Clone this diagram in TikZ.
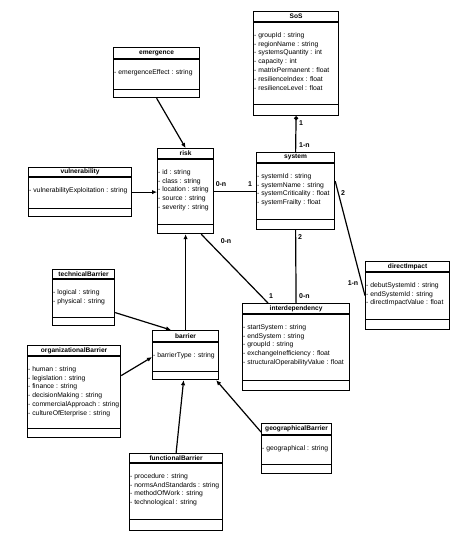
\documentclass[tikz,border=0pt]{standalone}
\usepackage{fontspec}
\setmainfont{Liberation Sans}
\usetikzlibrary{arrows.meta}
\tikzset{
  classbox/.style={draw,line width=1.2pt,inner sep=0pt,fill=white},
  classname/.style={font=\fontsize{6.6}{8}\selectfont\bfseries,inner sep=0pt},
  attrlist/.style={font=\fontsize{6.8}{8.9}\selectfont,align=left,inner sep=0pt},
  assoc/.style={line width=1.2pt},
  gen/.style={line width=1.2pt,-{Latex[length=5pt,width=4.5pt]}},
  mult/.style={font=\fontsize{7}{8}\selectfont\bfseries,inner sep=0pt}
}
% name, left, top, right, bottom, title height, bottom band height, title, attributes
\newcommand{\umlclass}[9]{%
  \node[classbox,anchor=north west,minimum width={#4-#2},minimum height={#5-#3}] (#1) at (#2,#3) {};
  \draw[line width=1.2pt] ([yshift=-#6]#1.north west) -- ([yshift=-#6]#1.north east);
  \draw[line width=1.2pt] ([yshift=#7]#1.south west) -- ([yshift=#7]#1.south east);
  \node[classname] at ([yshift=-#6/2]#1.north) {#8};
  \node[attrlist,anchor=north west] at ([xshift=1,yshift=-#6-10]#1.north west) {#9};
}
\begin{document}
\begin{tikzpicture}[x=1pt,y=-1pt]
  \useasboundingbox (0,0) rectangle (474,547);

  \umlclass{sos}{253}{11}{338}{115}{11}{12}{SoS}{- groupId : string\\- regionName : string\\- systemsQuantity : int\\- capacity : int\\- matrixPermanent : float\\- resilienceIndex : float\\- resilienceLevel : float}
  \umlclass{emergence}{113}{47}{199}{97}{12}{9}{emergence}{- emergenceEffect : string}
  \umlclass{risk}{157}{148}{213}{233}{11}{10}{risk}{- id : string\\- class : string\\- location : string\\- source : string\\- severity : string}
  \umlclass{vulnerability}{28}{167}{131}{216}{10}{9}{vulnerability}{- vulnerabilityExploitation : string}
  \umlclass{system}{256}{152}{334}{229}{11}{11}{system}{- systemId : string\\- systemName : string\\- systemCriticality : float\\- systemFrailty : float}
  \umlclass{directImpact}{365}{261}{449}{329}{11}{11}{directImpact}{- debutSystemId : string\\- endSystemId : string\\- directImpactValue : float}
  \umlclass{interdependency}{242}{303}{349}{390}{11}{11}{interdependency}{- startSystem : string\\- endSystem : string\\- groupId : string\\- exchangeInefficiency : float\\- structuralOperabilityValue : float}
  \umlclass{technicalBarrier}{52}{269}{114}{325}{10}{9}{technicalBarrier}{- logical : string\\- physical : string}
  \umlclass{barrier}{152}{330}{218}{379}{12}{9}{barrier}{- barrierType : string}
  \umlclass{organizationalBarrier}{27}{345}{120}{437}{11}{10}{organizationalBarrier}{- human : string\\- legislation : string\\- finance : string\\- decisionMaking : string\\- commercialApproach : string\\- cultureOfEterprise : string}
  \umlclass{functionalBarrier}{129}{453}{222}{530}{10}{12}{functionalBarrier}{- procedure : string\\- normsAndStandards : string\\- methodOfWork : string\\- technological : string}
  \umlclass{geographicalBarrier}{261}{423}{331}{473}{12}{10}{geographicalBarrier}{- geographical : string}

  % associations
  \draw[assoc,{Circle[length=4pt]}-] (sos.south) -- (system.north);
  \node[mult,anchor=west] at (299,123) {1};
  \node[mult,anchor=west] at (299,145) {1-n};
  \draw[assoc] (risk.east) -- (system.west);
  \node[mult] at (221,184) {0-n};
  \node[mult] at (250,184) {1};
  \draw[assoc] (system.south) -- (interdependency.north);
  \node[mult,anchor=west] at (298,237) {2};
  \node[mult,anchor=west] at (299,296) {0-n};
  \draw[assoc] ([xshift=-13]risk.south east) -- ([xshift=26]interdependency.north west);
  \node[mult] at (226,241) {0-n};
  \node[mult] at (271,296) {1};
  \draw[assoc] ([yshift=10]system.east) -- (directImpact.west);
  \node[mult] at (343,193) {2};
  \node[mult] at (353,283) {1-n};

  % arrows
  \draw[gen] (emergence.south) -- (risk.north);
  \draw[gen] (vulnerability.east) -- (risk.west |- vulnerability.east);
  \draw[gen] (barrier.north) -- (risk.south);
  \draw[gen] ([yshift=-15]technicalBarrier.east) -- ([xshift=19]barrier.north west);
  \draw[gen] ([yshift=16]organizationalBarrier.east) -- ([yshift=-2]barrier.west);
  \draw[gen] (functionalBarrier.north) -- ([xshift=-2]barrier.south);
  \draw[gen] ([yshift=-9]geographicalBarrier.north west) -- ([xshift=-3]barrier.south east);
\end{tikzpicture}
\end{document}
